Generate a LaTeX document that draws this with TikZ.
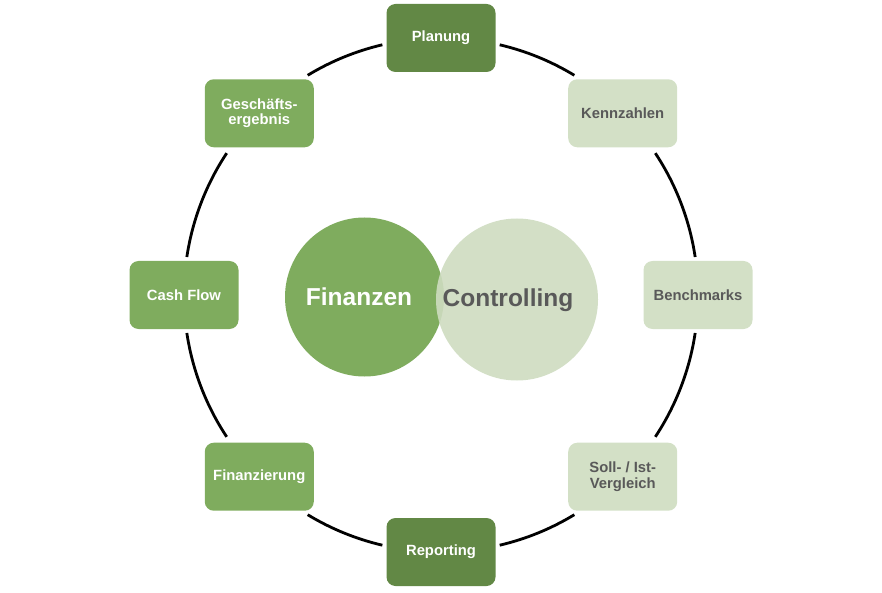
\documentclass[tikz,border=0pt]{standalone}
\usepackage{fontspec}
\setmainfont{Liberation Sans}
\usetikzlibrary{calc}
\definecolor{darkg}{RGB}{98,136,69}
\definecolor{midg}{RGB}{127,172,94}
\definecolor{lightg}{RGB}{211,224,198}
\definecolor{lightgc}{RGB}{206,220,192}
\definecolor{txtgray}{RGB}{89,89,89}
\tikzset{
  box/.style={rectangle, rounded corners=9pt, minimum width=109pt, minimum height=68pt,
    inner sep=0pt, align=center, font=\fontsize{14.8}{15.5}\selectfont\bfseries},
  boxdark/.style={box, fill=darkg, text=white},
  boxmid/.style={box, fill=midg, text=white},
  boxlight/.style={box, fill=lightg, text=txtgray},
  ring/.style={line width=2.8pt, black, looseness=0.86},
  bigc/.style={circle, inner sep=0pt, font=\fontsize{24.5}{26}\selectfont\bfseries}
}
\begin{document}
\begin{tikzpicture}[x=1pt,y=1pt]
\useasboundingbox (0,0) rectangle (882,592);
\coordinate (c) at (441,297);
% circles
\node[bigc, minimum size=159pt, fill=midg] (fin) at (364.5,295) {};
\node[bigc, minimum size=162pt, fill=lightgc, fill opacity=0.9] (con) at (517,292.5) {};
\node[bigc, text=white, anchor=base] (fint) at (359,286.3) {Finanzen};
\node[bigc, text=txtgray, anchor=base] (cont) at (508,285.3) {Controlling};
% boxes
\node[boxdark]  (plan) at ($(c)+(90:257)$) {Planung};
\node[boxlight] (kenn) at ($(c)+(45:257)$) {Kennzahlen};
\node[boxlight] (bench) at ($(c)+(0:257)$) {Benchmarks};
\node[boxlight] (soll) at ($(c)+(-45:257)$) {Soll- / Ist-\\Vergleich};
\node[boxdark]  (rep) at ($(c)+(-90:257)$) {Reporting};
\node[boxmid]   (finz) at ($(c)+(-135:257)$) {Finanzierung};
\node[boxmid]   (cash) at ($(c)+(180:257)$) {Cash Flow};
\node[boxmid]   (gesch) at ($(c)+(135:257)$) {Geschäfts-\\ergebnis};
% ring end points (where the ring leaves each box, with a small gap)
\coordinate (plan-r)  at ($(c)+(76.8:257)$);
\coordinate (kenn-t)  at ($(c)+(58.75:257)$);
\coordinate (kenn-b)  at ($(c)+(33.5:257)$);
\coordinate (bench-t) at ($(c)+(8.5:257)$);
\coordinate (bench-b) at ($(c)+(-8.5:257)$);
\coordinate (soll-t)  at ($(c)+(-33.5:257)$);
\coordinate (soll-b)  at ($(c)+(-58.75:257)$);
\coordinate (rep-r)   at ($(c)+(-76.8:257)$);
\coordinate (rep-l)   at ($(c)+(-103.2:257)$);
\coordinate (finz-b)  at ($(c)+(-121.25:257)$);
\coordinate (finz-t)  at ($(c)+(-146.5:257)$);
\coordinate (cash-b)  at ($(c)+(-171.5:257)$);
\coordinate (cash-t)  at ($(c)+(171.5:257)$);
\coordinate (gesch-b) at ($(c)+(146.5:257)$);
\coordinate (gesch-t) at ($(c)+(121.25:257)$);
\coordinate (plan-l)  at ($(c)+(103.2:257)$);
% ring connectors
\draw[ring] (plan-r)  to[out=-13.2,  in=148.75] (kenn-t);
\draw[ring] (kenn-b)  to[out=-56.5,  in=98.5]   (bench-t);
\draw[ring] (bench-b) to[out=-98.5,  in=56.5]   (soll-t);
\draw[ring] (soll-b)  to[out=-148.75,in=13.2]   (rep-r);
\draw[ring] (rep-l)   to[out=166.8,  in=-31.25] (finz-b);
\draw[ring] (finz-t)  to[out=123.5,  in=-81.5]  (cash-b);
\draw[ring] (cash-t)  to[out=81.5,   in=-123.5] (gesch-b);
\draw[ring] (gesch-t) to[out=31.25,  in=-166.8] (plan-l);
\end{tikzpicture}
\end{document}
